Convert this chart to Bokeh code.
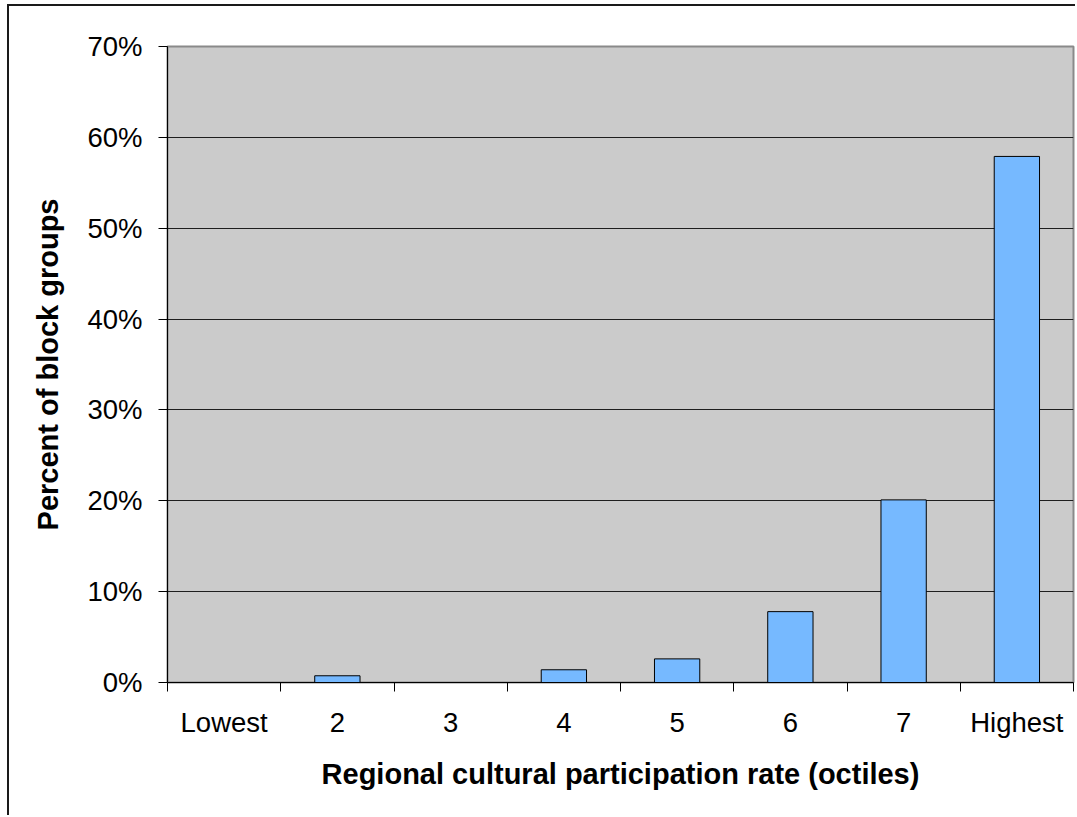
from bokeh.plotting import figure
from bokeh.models import FixedTicker, NumeralTickFormatter, Range1d, ColumnDataSource
from bokeh.embed import file_html
from bokeh.resources import INLINE

# Share of block groups by regional cultural participation octile
categories = ["Lowest", "2", "3", "4", "5", "6", "7", "Highest"]
percent_block_groups = [0.0, 0.0074, 0.0, 0.014, 0.026, 0.078, 0.201, 0.579]
y_ticks = [0.0, 0.1, 0.2, 0.3, 0.4, 0.5, 0.6, 0.7]

FONT = "Liberation Sans"

n = len(categories)
centers = [i + 0.5 for i in range(n)]
source = ColumnDataSource(dict(x=centers, top=percent_block_groups, cat=categories))

# the chart sits inside a frame drawn on its top and left edges
p = figure(width=1068, height=811, output_backend="svg", toolbar_location=None,
           x_range=Range1d(0, n), y_range=Range1d(0, 0.7),
           min_border_left=158, min_border_right=4, min_border_top=40,
           min_border_bottom=135)
p.styles = {"margin-top": "4px", "margin-left": "7px",
            "border-top": "2px solid #1a1a1a", "border-left": "2px solid #1a1a1a"}

p.background_fill_color = "#cbcbcb"
p.border_fill_color = "white"
p.outline_line_color = "#8a8a8a"
p.outline_line_width = 2

p.vbar(x="x", top="top", bottom=0, width=0.4, source=source,
       fill_color="#76b9ff", line_color="black", line_width=1)

# y axis: percentages with outward ticks
yax = p.yaxis[0]
yax.ticker = FixedTicker(ticks=y_ticks)
yax.formatter = NumeralTickFormatter(format="0%")
yax.major_tick_out = 9
yax.major_tick_in = 0
yax.minor_tick_out = 0
yax.minor_tick_in = 0
yax.axis_line_color = "black"
yax.major_tick_line_color = "black"
yax.major_label_text_font = FONT
yax.major_label_text_font_size = "27.5px"
yax.major_label_text_color = "black"
yax.major_label_standoff = 16
yax.axis_label = "Percent of block groups"
yax.axis_label_text_font = FONT
yax.axis_label_text_font_style = "bold"
yax.axis_label_text_font_size = "29px"
yax.axis_label_text_color = "black"
yax.axis_label_standoff = 20

# x axis: labels centred on categories, ticks on category boundaries
xax = p.xaxis[0]
xax.ticker = FixedTicker(ticks=centers, minor_ticks=list(range(n + 1)))
xax.major_label_overrides = {c: lab for c, lab in zip(centers, categories)}
xax.major_tick_out = 0
xax.major_tick_in = 0
xax.minor_tick_out = 9
xax.minor_tick_in = 0
xax.minor_tick_line_color = "black"
xax.axis_line_color = "black"
xax.major_label_text_font = FONT
xax.major_label_text_font_size = "27.5px"
xax.major_label_text_color = "black"
xax.major_label_standoff = 15
xax.axis_label = "Regional cultural participation rate (octiles)"
xax.axis_label_text_font = FONT
xax.axis_label_text_font_style = "bold"
xax.axis_label_text_font_size = "29px"
xax.axis_label_text_color = "black"
xax.axis_label_standoff = 17

# horizontal gridlines between the axis and the top border
p.xgrid.visible = False
p.ygrid.ticker = FixedTicker(ticks=y_ticks[1:-1])
p.ygrid.grid_line_color = "#1e1e1e"
p.ygrid.grid_line_width = 1

open("out.html", "w").write(file_html(p, INLINE))
